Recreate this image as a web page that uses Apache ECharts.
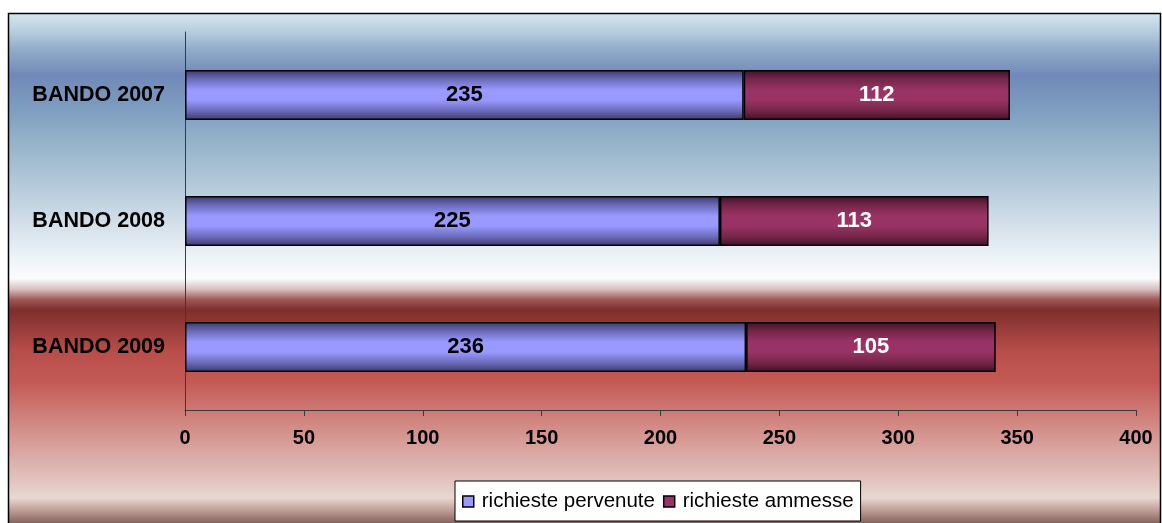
<!DOCTYPE html>
<html>
<head>
<meta charset="utf-8">
<title>Bandi</title>
<script src="https://cdn.jsdelivr.net/npm/echarts@6.0.0/dist/echarts.min.js"></script>
<style>
  html, body { margin: 0; padding: 0; background: #fff; }
  .chart { width: 1162px; height: 523px; }
</style>
</head>
<body>
<div class="chart"></div>
<script>
// dati del grafico
var categorie = ['BANDO 2007', 'BANDO 2008', 'BANDO 2009'];
var pervenute = [235, 225, 236];
var ammesse = [112, 113, 105];
var nomiSerie = ['richieste pervenute', 'richieste ammesse'];

var font = '"Liberation Sans", Arial, sans-serif';

// sfondo a fasce: azzurro in alto, rosso in basso
var sfondo = new echarts.graphic.LinearGradient(0, 0, 0, 1, [
    { offset: 0.00, color: '#d8e7f1' },
    { offset: 0.04, color: '#b2cadd' },
    { offset: 0.07, color: '#92acca' },
    { offset: 0.12, color: '#7189b8' },
    { offset: 0.19, color: '#7f9fc0' },
    { offset: 0.24, color: '#92b0c8' },
    { offset: 0.36, color: '#c0d2e0' },
    { offset: 0.47, color: '#eef3f7' },
    { offset: 0.51, color: '#fbfbfc' },
    { offset: 0.53, color: '#d8c0c0' },
    { offset: 0.55, color: '#a05855' },
    { offset: 0.57, color: '#7e2e2c' },
    { offset: 0.65, color: '#b84e4a' },
    { offset: 0.71, color: '#c55a55' },
    { offset: 0.81, color: '#d59590' },
    { offset: 0.90, color: '#e3c5c0' },
    { offset: 0.93, color: '#e8d8d0' },
    { offset: 0.95, color: '#c8a8a0' },
    { offset: 0.98, color: '#806058' },
    { offset: 1.00, color: '#705048' }
]);

// riempimento delle barre con bordi scuri (effetto cilindro)
function barra(scuro, medio, chiaro) {
    return new echarts.graphic.LinearGradient(0, 0, 0, 1, [
        { offset: 0, color: scuro },
        { offset: 0.18, color: medio },
        { offset: 0.4, color: chiaro },
        { offset: 0.6, color: chiaro },
        { offset: 0.82, color: medio },
        { offset: 1, color: scuro }
    ]);
}

var chart = echarts.init(document.querySelector('.chart'));

var option = {
    animation: false,
    graphic: [{
        type: 'rect',
        z: -10,
        silent: true,
        shape: { x: 8.5, y: 13.5, width: 1152, height: 520 },
        style: { fill: sfondo, stroke: '#000', lineWidth: 1.5 }
    }],
    grid: { left: 185, right: 26, top: 32, bottom: 113 },
    legend: {
        left: 455,
        top: 481,
        padding: [10, 7, 9, 7],
        itemGap: 8,
        itemWidth: 11,
        itemHeight: 11,
        backgroundColor: '#fff',
        borderColor: '#000',
        borderWidth: 1,
        textStyle: { fontFamily: font, fontSize: 20.5, color: '#000', padding: [0, 0, 0, 3] },
        data: [
            { name: nomiSerie[0], icon: 'rect', itemStyle: { color: '#9999ff', borderColor: '#000', borderWidth: 1.5 } },
            { name: nomiSerie[1], icon: 'rect', itemStyle: { color: '#993366', borderColor: '#000', borderWidth: 1.5 } }
        ]
    },
    xAxis: {
        type: 'value',
        min: 0,
        max: 400,
        interval: 50,
        splitLine: { show: false },
        axisLine: { show: true, lineStyle: { color: '#3a3a3a', width: 1 } },
        axisTick: { show: true, length: 6, lineStyle: { color: '#3a3a3a' } },
        axisLabel: { margin: 18, fontFamily: font, fontSize: 20, fontWeight: 'bold', color: '#000' }
    },
    yAxis: {
        type: 'category',
        inverse: true, // 2007 in alto
        data: categorie,
        axisLine: { show: true, lineStyle: { color: '#3a3a3a', width: 1 } },
        axisTick: { show: false },
        axisLabel: { margin: 20, fontFamily: font, fontSize: 21.5, fontWeight: 'bold', color: '#000' }
    },
    series: [{
        name: nomiSerie[0],
        type: 'bar',
        stack: 'tot',
        barWidth: 50,
        data: pervenute,
        itemStyle: { color: barra('#3a3a6a', '#6a6ab8', '#9999ff'), borderColor: '#000', borderWidth: 1.5 },
        label: { show: true, position: 'inside', fontFamily: font, fontSize: 22, fontWeight: 'bold', color: '#000' }
    }, {
        name: nomiSerie[1],
        type: 'bar',
        stack: 'tot',
        barWidth: 50,
        data: ammesse,
        itemStyle: { color: barra('#3e1228', '#742648', '#993366'), borderColor: '#000', borderWidth: 1.5 },
        label: { show: true, position: 'inside', fontFamily: font, fontSize: 22, fontWeight: 'bold', color: '#fff' }
    }]
};

chart.setOption(option);
</script>
</body>
</html>
